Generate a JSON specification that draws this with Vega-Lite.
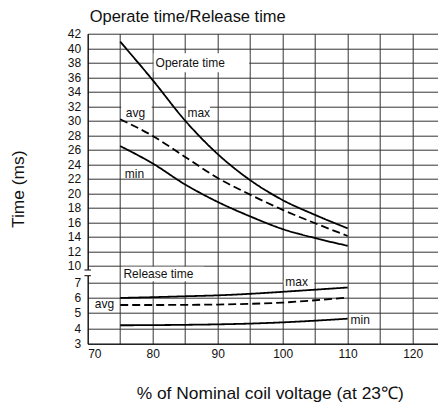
{
  "$schema": "https://vega.github.io/schema/vega-lite/v6.json",
  "width": 350,
  "height": 310,
  "autosize": {"type": "none"},
  "padding": {"left": 87.7, "top": 33.7, "right": 0, "bottom": 63.3},
  "config": {
    "view": {"stroke": null},
    "font": "Liberation Sans",
    "axis": {
      "labelFont": "Liberation Sans",
      "titleFont": "Liberation Sans",
      "labelFontSize": 12,
      "titleFontSize": 17.4,
      "titleFontWeight": "normal",
      "labelColor": "#111",
      "titleColor": "#111",
      "domainColor": "#000",
      "domainWidth": 1,
      "gridColor": "#333",
      "gridWidth": 1,
      "gridOpacity": 1,
      "ticks": false,
      "labelOverlap": false
    }
  },
  "title": {
    "text": "Operate time/Release time",
    "anchor": "start",
    "frame": "group",
    "font": "Liberation Sans",
    "fontSize": 16.5,
    "fontWeight": "normal",
    "color": "#111",
    "baseline": "bottom",
    "offset": 4,
    "dx": 2,
    "dy": 18
  },
  "datasets": {
    "curves": [
      {"v": 75, "t": 40.9, "series": "Operate max", "stat": "max"},
      {"v": 80, "t": 35.6, "series": "Operate max", "stat": "max"},
      {"v": 85, "t": 30.0, "series": "Operate max", "stat": "max"},
      {"v": 90, "t": 25.4, "series": "Operate max", "stat": "max"},
      {"v": 95, "t": 21.8, "series": "Operate max", "stat": "max"},
      {"v": 100, "t": 19.05, "series": "Operate max", "stat": "max"},
      {"v": 105, "t": 17.0, "series": "Operate max", "stat": "max"},
      {"v": 110, "t": 15.15, "series": "Operate max", "stat": "max"},
      {"v": 75, "t": 30.2, "series": "Operate avg", "stat": "avg"},
      {"v": 80, "t": 27.9, "series": "Operate avg", "stat": "avg"},
      {"v": 85, "t": 25.0, "series": "Operate avg", "stat": "avg"},
      {"v": 90, "t": 22.1, "series": "Operate avg", "stat": "avg"},
      {"v": 95, "t": 19.8, "series": "Operate avg", "stat": "avg"},
      {"v": 100, "t": 17.7, "series": "Operate avg", "stat": "avg"},
      {"v": 105, "t": 15.85, "series": "Operate avg", "stat": "avg"},
      {"v": 110, "t": 14.1, "series": "Operate avg", "stat": "avg"},
      {"v": 75, "t": 26.5, "series": "Operate min", "stat": "min"},
      {"v": 80, "t": 24.1, "series": "Operate min", "stat": "min"},
      {"v": 85, "t": 21.2, "series": "Operate min", "stat": "min"},
      {"v": 90, "t": 18.8, "series": "Operate min", "stat": "min"},
      {"v": 95, "t": 16.8, "series": "Operate min", "stat": "min"},
      {"v": 100, "t": 15.05, "series": "Operate min", "stat": "min"},
      {"v": 105, "t": 13.8, "series": "Operate min", "stat": "min"},
      {"v": 110, "t": 12.75, "series": "Operate min", "stat": "min"},
      {"v": 75, "t": 5.98, "series": "Release max", "stat": "max"},
      {"v": 80, "t": 6.03, "series": "Release max", "stat": "max"},
      {"v": 85, "t": 6.09, "series": "Release max", "stat": "max"},
      {"v": 90, "t": 6.15, "series": "Release max", "stat": "max"},
      {"v": 95, "t": 6.25, "series": "Release max", "stat": "max"},
      {"v": 100, "t": 6.38, "series": "Release max", "stat": "max"},
      {"v": 105, "t": 6.52, "series": "Release max", "stat": "max"},
      {"v": 110, "t": 6.66, "series": "Release max", "stat": "max"},
      {"v": 75, "t": 5.52, "series": "Release avg", "stat": "avg"},
      {"v": 80, "t": 5.52, "series": "Release avg", "stat": "avg"},
      {"v": 85, "t": 5.53, "series": "Release avg", "stat": "avg"},
      {"v": 90, "t": 5.55, "series": "Release avg", "stat": "avg"},
      {"v": 95, "t": 5.6, "series": "Release avg", "stat": "avg"},
      {"v": 100, "t": 5.68, "series": "Release avg", "stat": "avg"},
      {"v": 105, "t": 5.83, "series": "Release avg", "stat": "avg"},
      {"v": 110, "t": 6.0, "series": "Release avg", "stat": "avg"},
      {"v": 75, "t": 4.2, "series": "Release min", "stat": "min"},
      {"v": 80, "t": 4.21, "series": "Release min", "stat": "min"},
      {"v": 85, "t": 4.23, "series": "Release min", "stat": "min"},
      {"v": 90, "t": 4.26, "series": "Release min", "stat": "min"},
      {"v": 95, "t": 4.31, "series": "Release min", "stat": "min"},
      {"v": 100, "t": 4.39, "series": "Release min", "stat": "min"},
      {"v": 105, "t": 4.5, "series": "Release min", "stat": "min"},
      {"v": 110, "t": 4.63, "series": "Release min", "stat": "min"}
    ],
    "boxes": [
      {"v": 80.15, "v2": 94.85, "t": 36.7, "t2": 39.3},
      {"v": 75.15, "v2": 79.85, "t": 30.4, "t2": 32.6},
      {"v": 85.15, "v2": 88.8, "t": 30.4, "t2": 32.6},
      {"v": 75.2, "v2": 87.9, "t": 7.2, "t2": 9.8},
      {"v": 100.15, "v2": 104.85, "t": 6.85, "t2": 7.3},
      {"v": 69.8, "v2": 70.2, "t": 8.15, "t2": 9.25}
    ],
    "breaks": [
      {"v": 69.5, "v2": 70.5, "t": 9.22},
      {"v": 69.5, "v2": 70.5, "t": 8.19}
    ],
    "labels": [
      {"v": 80.45, "t": 37.9, "text": "Operate time"},
      {"v": 75.85, "t": 31.1, "text": "avg"},
      {"v": 85.35, "t": 31.1, "text": "max"},
      {"v": 75.7, "t": 22.7, "text": "min"},
      {"v": 75.5, "t": 8.5, "text": "Release time"},
      {"v": 71.1, "t": 5.59, "text": "avg"},
      {"v": 100.4, "t": 7.04, "text": "max"},
      {"v": 110.45, "t": 4.54, "text": "min"}
    ]
  },
  "encoding": {
    "x": {
      "field": "v",
      "type": "quantitative",
      "scale": {"domain": [70, 123.85], "nice": false, "zero": false},
      "axis": {
        "title": "% of Nominal coil voltage (at 23℃)",
        "values": [70, 75, 80, 85, 90, 95, 100, 105, 110, 115, 120],
        "labelExpr": "datum.value % 10 === 0 ? datum.label : ''",
        "labelPadding": 5,
        "titlePadding": 25,
        "titleX": 182,
        "grid": true
      }
    },
    "y": {
      "field": "t",
      "type": "quantitative",
      "scale": {"domain": [3, 7, 10, 42], "range": [310, 248.6, 232, 0], "nice": false, "zero": false},
      "axis": {
        "title": "Time (ms)",
        "values": [3, 4, 5, 6, 7, 10, 12, 14, 16, 18, 20, 22, 24, 26, 28, 30, 32, 34, 36, 38, 40, 42],
        "labelPadding": 7,
        "titlePadding": 40,
        "grid": true
      }
    }
  },
  "layer": [
    {
      "data": {"name": "boxes"},
      "mark": {"type": "rect", "fill": "#ffffff", "stroke": null},
      "encoding": {
        "x2": {"field": "v2"},
        "y2": {"field": "t2"}
      }
    },
    {
      "data": {"name": "breaks"},
      "mark": {"type": "rule", "color": "#000", "strokeWidth": 1},
      "encoding": {
        "x2": {"field": "v2"}
      }
    },
    {
      "data": {"name": "curves"},
      "mark": {"type": "line", "color": "#000", "strokeWidth": 1.8, "interpolate": "monotone"},
      "encoding": {
        "detail": {"field": "series", "type": "nominal"},
        "strokeDash": {
          "field": "stat",
          "type": "nominal",
          "scale": {"domain": ["avg", "max", "min"], "range": [[8, 4], [1, 0], [1, 0]]},
          "legend": null
        }
      }
    },
    {
      "data": {"name": "labels"},
      "mark": {"type": "text", "align": "left", "baseline": "middle", "fontSize": 12, "font": "Liberation Sans", "color": "#111"},
      "encoding": {
        "text": {"field": "text", "type": "nominal"}
      }
    }
  ]
}
